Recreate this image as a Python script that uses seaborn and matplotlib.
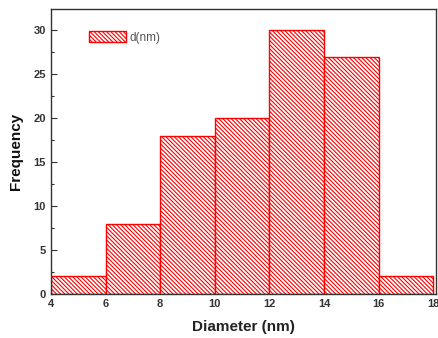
import numpy as np
import matplotlib
matplotlib.use("Agg")
import matplotlib.pyplot as plt
from matplotlib.ticker import MultipleLocator
import seaborn as sns

# ==============================================================================
# DATA — particle size histogram
# ==============================================================================
bin_edges   = [4, 6, 8, 10, 12, 14, 16, 18]
bin_centers = [5, 7, 9, 11, 13, 15, 17]
counts      = [2, 8, 18, 20, 30, 27, 2]

sns.set_style("ticks")
plt.rcParams["font.family"] = ["Liberation Sans", "DejaVu Sans"]
plt.rcParams["hatch.linewidth"] = 0.8
plt.rcParams["hatch.color"] = "red"

fig = plt.figure(figsize=(4.38, 3.38), dpi=100)
ax = fig.add_axes([0.1164, 0.1302, 0.879, 0.843])

sns.histplot(
    x=bin_centers, weights=counts, bins=bin_edges,
    ax=ax, stat="count", element="bars",
    facecolor="white", edgecolor="red", linewidth=1.0,
    hatch="\\" * 8, label="d(nm)",
)

ax.set_xlim(4, 18.1)
ax.set_ylim(0, 32.4)
ax.xaxis.set_major_locator(MultipleLocator(2))
ax.xaxis.set_minor_locator(MultipleLocator(1))
ax.yaxis.set_major_locator(MultipleLocator(5))
ax.yaxis.set_minor_locator(MultipleLocator(2.5))
ax.tick_params(which="both", direction="in", colors="#333333", labelcolor="#333333",
               labelsize=8)
ax.tick_params(which="major", length=4, width=0.8)
ax.tick_params(which="minor", length=2, width=0.8)
for lab in ax.get_xticklabels() + ax.get_yticklabels():
    lab.set_fontweight("bold")

for side in ["top", "right", "left", "bottom"]:
    ax.spines[side].set_visible(True)
    ax.spines[side].set_color("#333333")
    ax.spines[side].set_linewidth(1.0)

ax.set_xlabel("Diameter (nm)", fontsize=11, fontweight="bold",
              color="#222222", labelpad=8)
ax.set_ylabel("Frequency", fontsize=11, fontweight="bold", color="#111111",
              labelpad=8)

leg = ax.legend(loc="upper left", bbox_to_anchor=(0.07, 0.96), frameon=False,
                fontsize=8.5, handlelength=3.2, handleheight=1.1, handletextpad=0.3)
for t in leg.get_texts():
    t.set_color("#555555")

fig.savefig("out.png", dpi=100)
